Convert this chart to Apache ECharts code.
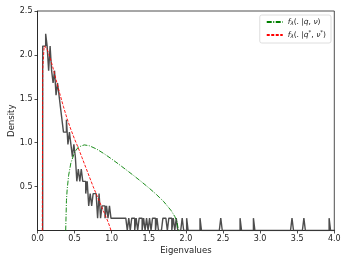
<!DOCTYPE html>
<html>
<head>
<meta charset="utf-8">
<script src="https://cdn.jsdelivr.net/npm/echarts@6/dist/echarts.min.js"></script>
<style>html,body{margin:0;padding:0;background:#fff}#c{width:349px;height:262px}</style>
</head>
<body>
<div id="c"></div>
<script>
// Histogram of eigenvalues: bins of fixed width starting at binStart
var binStart = 0.07;
var binWidth = 0.02;
var densityPerCount = 0.14;
// counts of the bulk bins, from 0.07 upward
var bulkCounts = [15,15,16,15,13,15,13,12,13,11,12,11,10,9,8,8,9,7,8,7,6,7,6,4,5,4,5,4,4,3,4,2,3,2,3,3,3,1,3,1,2,2,1,2,1,2,1,1,1,1,1,1,1,1,1,1];
// isolated eigenvalues in the tail
var tailEigenvalues = [1.20,1.24,1.27,1.29,1.33,1.37,1.40,1.44,1.47,1.52,1.55,1.57,1.62,1.69,1.71,1.74,1.77,1.80,1.83,1.87,1.96,2.02,2.20,2.48,2.73,2.92,3.43,3.60,3.93];
// fitted density f(.|q*,nu*)
var redX = [0.065,0.068,0.07,0.09,0.10,0.12,0.15,0.20,0.25,0.30,0.35,0.40,0.45,0.50,0.55,0.60,0.65,0.70,0.75,0.80,0.85,0.90,0.95,0.98,0.99];
var redY = [0,1.2,1.84,2.10,2.12,2.08,2.02,1.88,1.72,1.56,1.41,1.27,1.15,1.04,0.94,0.83,0.72,0.61,0.50,0.40,0.30,0.20,0.10,0.03,0];
// density f(.|q,nu)
var greenX = [0.38,0.39,0.40,0.42,0.45,0.50,0.55,0.63,0.70,0.80,0.90,1.00,1.10,1.20,1.30,1.40,1.50,1.60,1.70,1.80,1.85,1.88,1.90];
var greenY = [0,0.34,0.47,0.63,0.77,0.89,0.95,0.975,0.965,0.926,0.873,0.814,0.752,0.688,0.623,0.556,0.486,0.412,0.33,0.228,0.16,0.10,0];
var xTicks = [0,0.5,1,1.5,2,2.5,3,3.5,4];
var yTicks = [0.5,1,1.5,2,2.5];
var seriesNames = ['fq', 'fqstar'];

var nBins = Math.ceil((4.0 - binStart) / binWidth);
var counts = [];
for (var i = 0; i < nBins; i++) counts.push(i < bulkCounts.length ? bulkCounts[i] : 0);
tailEigenvalues.forEach(function (v) {
  var k = Math.floor((v - binStart) / binWidth + 1e-6);
  if (k >= 0 && k < nBins) counts[k] += 1;
});
var histPts = [[binStart, 0]];
for (var i = 0; i < nBins; i++) {
  var l = binStart + i * binWidth, r = l + binWidth, h = counts[i] * densityPerCount;
  histPts.push([l, h], [r, h]);
}
histPts.push([binStart + nBins * binWidth, 0]);

var redPts = redX.map(function (x, i) { return [x, redY[i]]; });
var greenPts = greenX.map(function (x, i) { return [x, greenY[i]]; });

var font = 'DejaVu Sans';
var chart = echarts.init(document.getElementById('c'), null, {renderer: 'canvas'});
chart.setOption({
  animation: false,
  grid: {left: 37.5, right: 14.7, top: 11, bottom: 31.5, containLabel: false, outerBoundsMode: 'none',
    show: true, borderColor: '#222', borderWidth: 0.8, backgroundColor: 'transparent'},
  legend: {
    data: seriesNames, orient: 'vertical', right: 18, top: 15,
    backgroundColor: '#fff', borderColor: '#d6d6d6', borderWidth: 0.8, borderRadius: 2,
    padding: [3, 5, 3, 6], itemGap: 3, itemWidth: 16, itemHeight: 8,
    itemStyle: {opacity: 0},
    textStyle: {fontFamily: font, fontSize: 7.5, color: '#222',
      rich: {
        i: {fontFamily: font, fontStyle: 'italic', fontSize: 7.5, color: '#222'},
        n: {fontFamily: font, fontSize: 7.5, color: '#222'},
        s: {fontFamily: font, fontStyle: 'italic', fontSize: 5.5, color: '#222', padding: [4, 0, 0, 0]},
        p: {fontFamily: font, fontSize: 5.5, color: '#222', padding: [0, 0, 4, 0]}
      }},
    formatter: function (name) {
      if (name === 'fq') return '{i|f}{s|λ}{n|(. |}{i|q}{n|, }{i|ν}{n|)}';
      return '{i|f}{s|λ}{n|(. |}{i|q}{p|*}{n|, }{i|ν}{p|*}{n|)}';
    }
  },
  xAxis: {
    type: 'value', min: 0, max: 4, interval: 0.5,
    name: 'Eigenvalues', nameLocation: 'middle', nameGap: 16, nameMoveOverlap: false,
    nameTextStyle: {fontFamily: font, fontSize: 8.5, color: '#222'},
    axisLine: {lineStyle: {color: '#222', width: 0.8}},
    axisTick: {show: true, length: 3, lineStyle: {color: '#222', width: 0.8}},
    axisLabel: {fontFamily: font, fontSize: 8, color: '#222', margin: 4,
      formatter: function (v) { return v.toFixed(1); }},
    splitLine: {show: false}
  },
  yAxis: {
    type: 'value', min: 0, max: 2.5, interval: 0.5,
    name: 'Density', nameLocation: 'middle', nameGap: 26, nameRotate: 90, nameMoveOverlap: false,
    nameTextStyle: {fontFamily: font, fontSize: 8.5, color: '#222', verticalAlign: 'middle'},
    axisLine: {show: true, lineStyle: {color: '#222', width: 0.8}},
    axisTick: {show: true, length: 3, lineStyle: {color: '#222', width: 0.8}, customValues: yTicks},
    axisLabel: {fontFamily: font, fontSize: 8, color: '#222', margin: 5, customValues: yTicks,
      formatter: function (v) { return v === 0 ? '' : v.toFixed(1); }},
    splitLine: {show: false}
  },
  series: [
    {type: 'line', name: 'hist', data: histPts, symbol: 'none', silent: true,
      lineStyle: {color: '#3a3a3a', width: 1.4, opacity: 0.9}, z: 2},
    {type: 'line', name: 'fq', data: greenPts, symbol: 'none', smooth: false,
      itemStyle: {color: '#008000'},
      lineStyle: {color: '#008000', width: 0.9, type: [5, 1.5, 1, 1.5]}, z: 3},
    {type: 'line', name: 'fqstar', data: redPts, symbol: 'none', smooth: false,
      itemStyle: {color: '#ff0000'},
      lineStyle: {color: '#ff0000', width: 0.9, type: [3, 1.5]}, z: 4}
  ]
});
</script>
</body>
</html>
